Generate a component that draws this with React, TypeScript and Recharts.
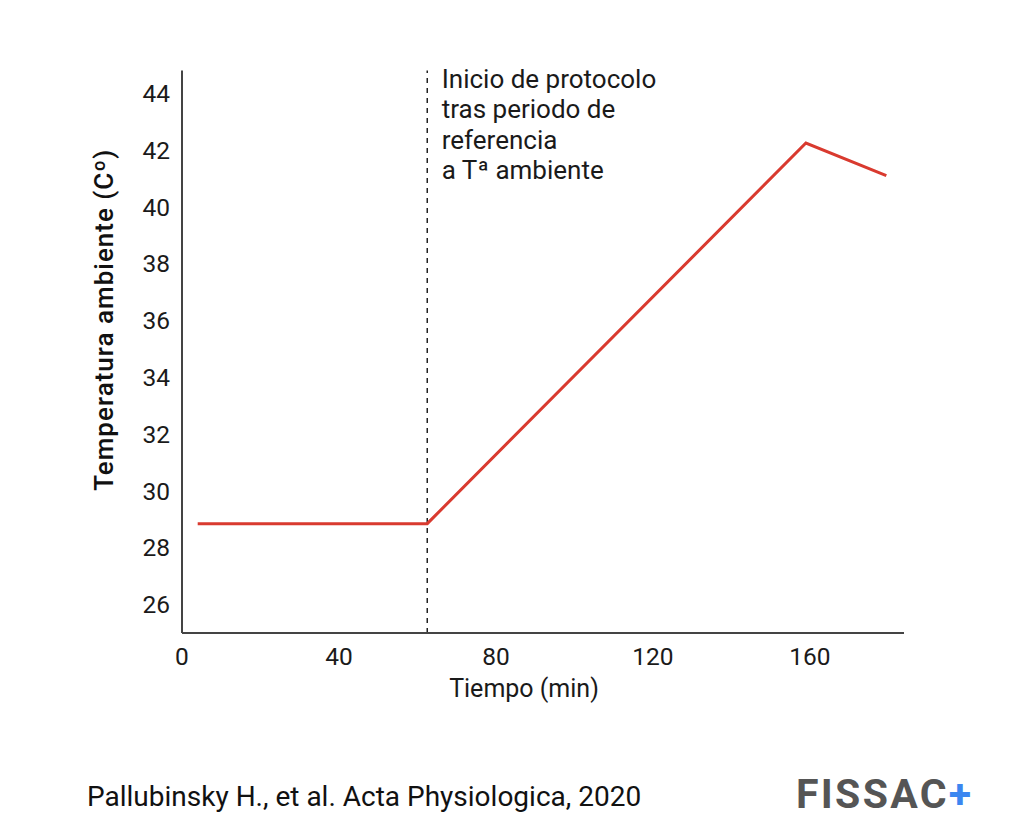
import React from 'react';
import {
  LineChart,
  Line,
  XAxis,
  YAxis,
  ReferenceLine,
} from 'recharts';

// minutes since start / ambient temperature (°C)
const timeMin = [4, 62.5, 159, 179.5];
const tempC = [28.85, 28.85, 42.25, 41.1];
const xTicks = [0, 40, 80, 120, 160];
const yTicks = [26, 28, 30, 32, 34, 36, 38, 40, 42, 44];
const protocolStart = 62.5;
const annotationLines = ['Inicio de protocolo', 'tras periodo de', 'referencia', 'a Tª ambiente'];

const data = timeMin.map((t, i) => ({ t, temp: tempC[i] }));

const FONT = 'Roboto, "Noto Sans", sans-serif';
const tickStyle = { fill: '#1a1a1a', fontSize: 24.5, fontFamily: FONT };

const renderAnnotation = (props: any) => {
  const { viewBox } = props;
  return (
    <text x={viewBox.x + 14.5} y={viewBox.y + 17} fill="#1a1a1a" fontSize={26} fontFamily={FONT}>
      {annotationLines.map((line, i) => (
        <tspan key={i} x={viewBox.x + 14.5} dy={i === 0 ? 0 : 30.6}>
          {line}
        </tspan>
      ))}
    </text>
  );
};

const renderYLabel = (props: any) => {
  const { viewBox } = props;
  const cx = 113;
  const cy = viewBox.y + viewBox.height / 2 - 32;
  return (
    <text
      x={cx}
      y={cy}
      transform={`rotate(-90, ${cx}, ${cy})`}
      textAnchor="middle"
      fill="#111"
      fontSize={26}
      fontWeight={500}
      letterSpacing={1}
      fontFamily={FONT}
    >
      Temperatura ambiente (Cº)
    </text>
  );
};

const renderXLabel = (props: any) => {
  const { viewBox } = props;
  return (
    <text
      x={viewBox.x + viewBox.width / 2 - 19}
      y={viewBox.y + 64}
      textAnchor="middle"
      fill="#1a1a1a"
      fontSize={25}
      fontFamily={FONT}
    >
      Tiempo (min)
    </text>
  );
};

export default function App() {
  return (
    <div style={{ position: 'absolute', left: 0, top: 0, width: 1030, height: 838, background: '#fff' }}>
      <LineChart
        width={1030}
        height={838}
        data={data}
        margin={{ top: 70.6, right: 126, bottom: 0, left: 0 }}
      >
        <XAxis
          dataKey="t"
          type="number"
          domain={[0, 184]}
          ticks={xTicks}
          allowDataOverflow
          height={205}
          tickLine={false}
          tickMargin={9}
          axisLine={{ stroke: '#444', strokeWidth: 2 }}
          tick={tickStyle}
          label={{ content: renderXLabel }}
        />
        <YAxis
          type="number"
          domain={[25, 44.8]}
          ticks={yTicks}
          allowDataOverflow
          width={182}
          tickLine={false}
          tickMargin={6}
          axisLine={{ stroke: '#444', strokeWidth: 2 }}
          tick={tickStyle}
          label={{ content: renderYLabel }}
        />
        <ReferenceLine
          x={protocolStart}
          stroke="#222"
          strokeWidth={1.5}
          strokeDasharray="5 5"
          label={{ content: renderAnnotation }}
        />
        <Line
          type="linear"
          dataKey="temp"
          stroke="#d93a2f"
          strokeWidth={3}
          dot={false}
          isAnimationActive={false}
        />
      </LineChart>
      <div
        style={{
          position: 'absolute',
          left: 87,
          top: 780,
          fontFamily: FONT,
          fontSize: 28,
          color: '#111',
          whiteSpace: 'nowrap',
          lineHeight: '34px',
        }}
      >
        Pallubinsky H., et al. Acta Physiologica, 2020
      </div>
      <div
        style={{
          position: 'absolute',
          left: 796,
          top: 769,
          fontFamily: FONT,
          fontSize: 41,
          fontWeight: 700,
          color: '#555',
          whiteSpace: 'nowrap',
          lineHeight: '50px',
          letterSpacing: 2.3,
        }}
      >
        FISSAC<span style={{ color: '#3b86f0', letterSpacing: 0 }}>+</span>
      </div>
    </div>
  );
}
